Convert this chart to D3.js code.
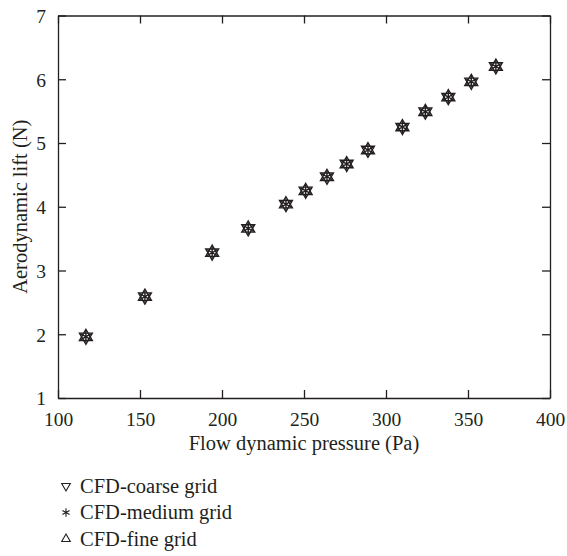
<!DOCTYPE html>
<html>
<head>
<meta charset="utf-8">
<script src="https://cdn.jsdelivr.net/npm/d3@7"></script>
<style>
  body { margin: 0; background: #fff; }
</style>
</head>
<body>
<div class="canvas"></div>
<script>
// flow dynamic pressure (Pa)
const pressure = [117, 153, 194, 216, 239, 251, 264, 276, 289, 310, 324, 338, 352, 367];
// aerodynamic lift (N) per grid
const liftCoarse = [1.96, 2.59, 3.28, 3.66, 4.04, 4.25, 4.47, 4.67, 4.89, 5.25, 5.49, 5.72, 5.96, 6.20];
const liftMedium = [1.96, 2.59, 3.28, 3.66, 4.04, 4.25, 4.47, 4.67, 4.89, 5.25, 5.49, 5.72, 5.96, 6.20];
const liftFine   = [1.96, 2.59, 3.28, 3.66, 4.04, 4.25, 4.47, 4.67, 4.89, 5.25, 5.49, 5.72, 5.96, 6.20];

const xTicks = [100, 150, 200, 250, 300, 350, 400];
const yTicks = [1, 2, 3, 4, 5, 6, 7];

const legendLabels = ["CFD-coarse grid", "CFD-medium grid", "CFD-fine grid"];

const width = 567, height = 556;
const margin = { top: 15.5, right: 17, bottom: 158, left: 58 };
const serif = "Liberation Serif, DejaVu Serif";
const tickFont = '19.5px';
const labelFont = '20.5px';

const svg = d3.select('.canvas')
  .append('svg')
  .attr('width', width)
  .attr('height', height)
  .style('font-family', serif);

const x = d3.scaleLinear()
  .domain([100, 400])
  .range([margin.left, width - margin.right]);

const y = d3.scaleLinear()
  .domain([1, 7])
  .range([height - margin.bottom, margin.top]);

const ink = '#231f20';
const tickLen = 8;

// axes, ticks pointing inward on all four sides
const bottomAxis = svg.append('g')
  .attr('transform', `translate(0,${y(1)})`)
  .call(d3.axisBottom(x).tickValues(xTicks).tickFormat(d3.format('d')).tickSize(-tickLen).tickPadding(14).tickSizeOuter(0));

svg.append('g')
  .attr('transform', `translate(0,${y(7)})`)
  .call(d3.axisTop(x).tickValues(xTicks).tickSize(-tickLen).tickFormat('').tickSizeOuter(0));

const leftAxis = svg.append('g')
  .attr('transform', `translate(${x(100)},0)`)
  .call(d3.axisLeft(y).tickValues(yTicks).tickFormat(d3.format('d')).tickSize(-tickLen).tickPadding(12).tickSizeOuter(0));

svg.append('g')
  .attr('transform', `translate(${x(400)},0)`)
  .call(d3.axisRight(y).tickValues(yTicks).tickSize(-tickLen).tickFormat('').tickSizeOuter(0));

svg.selectAll('.domain, .tick line')
  .attr('stroke', ink)
  .attr('stroke-width', 1.3);

bottomAxis.selectAll('.tick text').attr('dy', '0.71em');
leftAxis.selectAll('.tick text').attr('dy', '0.35em');

// axis titles
svg.append('text')
  .attr('class', 'label')
  .attr('x', (x(100) + x(400)) / 2)
  .attr('y', 450)
  .attr('text-anchor', 'middle')
  .text('Flow dynamic pressure (Pa)');

svg.append('text')
  .attr('class', 'label')
  .attr('transform', `translate(27,${(y(1) + y(7)) / 2}) rotate(-90)`)
  .attr('text-anchor', 'middle')
  .text('Aerodynamic lift (N)');

// markers
const triDown = d3.symbol().type(d3.symbolTriangle).size(72);
const triUp = d3.symbol().type(d3.symbolTriangle).size(72);
const star = d3.symbol().type(d3.symbolAsterisk).size(95);

const series = [
  { values: liftCoarse, path: triDown(), rot: 180 },
  { values: liftMedium, path: star(), rot: 0 },
  { values: liftFine, path: triUp(), rot: 0 }
];

series.forEach(s => {
  svg.append('g')
    .selectAll('path')
    .data(s.values)
    .join('path')
    .attr('d', s.path)
    .attr('transform', (d, i) => `translate(${x(pressure[i])},${y(d)}) rotate(${s.rot})`)
    .attr('fill', 'none')
    .attr('stroke', ink)
    .attr('stroke-width', 1.4);
});

// legend
const legendSymbols = [
  { path: d3.symbol().type(d3.symbolTriangle).size(32)(), rot: 180 },
  { path: d3.symbol().type(d3.symbolAsterisk).size(48)(), rot: 0 },
  { path: d3.symbol().type(d3.symbolTriangle).size(32)(), rot: 0 }
];

const legend = svg.append('g');
legendLabels.forEach((label, i) => {
  const row = legend.append('g')
    .attr('transform', `translate(0,${486 + i * 26.5})`);
  row.append('path')
    .attr('d', legendSymbols[i].path)
    .attr('transform', `translate(66,0) rotate(${legendSymbols[i].rot})`)
    .attr('fill', 'none')
    .attr('stroke', ink)
    .attr('stroke-width', 1.1);
  row.append('text')
    .attr('class', 'label')
    .attr('x', 80)
    .attr('y', 6.5)
    .text(label);
});

// d3 axes put their own font attributes on the groups; clear them and style every text
svg.selectAll('g').attr('font-family', null).attr('font-size', null);
svg.selectAll('text')
  .style('font-family', serif)
  .style('font-size', tickFont)
  .attr('fill', ink);
svg.selectAll('text.label')
  .style('font-size', labelFont);
</script>
</body>
</html>
